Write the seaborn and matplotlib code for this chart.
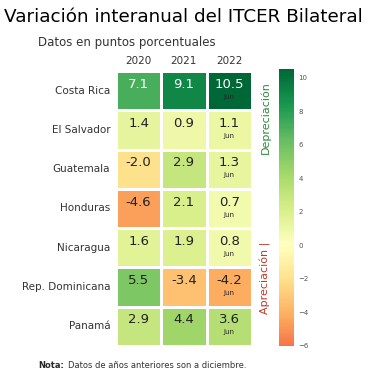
import numpy as np
import pandas as pd
import matplotlib
matplotlib.use("Agg")
import matplotlib.pyplot as plt
import seaborn as sns

# Data
paises = ["Costa Rica", "El Salvador", "Guatemala", "Honduras",
          "Nicaragua", "Rep. Dominicana", "Panamá"]
anios = ["2020", "2021", "2022"]
v2020 = [7.1, 1.4, -2.0, -4.6, 1.6, 5.5, 2.9]
v2021 = [9.1, 0.9, 2.9, 2.1, 1.9, -3.4, 4.4]
v2022 = [10.5, 1.1, 1.3, 0.7, 0.8, -4.2, 3.6]
nota_2022 = "Jun"

df = pd.DataFrame({"2020": v2020, "2021": v2021, "2022": v2022}, index=paises)

sns.set_style("white")
plt.rcParams["font.family"] = ["DejaVu Sans"]

fig = plt.figure(figsize=(3.8, 3.8), dpi=100)
ax = fig.add_axes([0.305, 0.09, 0.358, 0.723])
cax = fig.add_axes([0.734, 0.09, 0.039, 0.728])

sns.heatmap(df, ax=ax, cbar_ax=cax, cmap="RdYlGn", center=0, vmin=-6, vmax=10.5,
            linewidths=0.8, linecolor="white", annot=False)

# cell labels
for i, pais in enumerate(paises):
    for j, anio in enumerate(anios):
        val = df.loc[pais, anio]
        col = "white" if pais == "Costa Rica" else "#222222"
        ax.text(j + 0.5, i + 0.34, f"{val:.1f}", ha="center", va="center",
                fontsize=9.5, color=col)
        if anio == "2022":
            ax.text(j + 0.5, i + 0.66, nota_2022, ha="center", va="center",
                    fontsize=5, color="#222222")

ax.xaxis.tick_top()
ax.set_xlabel("")
ax.set_ylabel("")
ax.tick_params(axis="both", length=0, pad=4)
ax.set_xticklabels(anios, fontsize=7.5, color="#333333")
ax.set_yticklabels(paises, rotation=0, fontsize=7.5, color="#333333")

cax.tick_params(labelsize=5, colors="#555555", length=0)
cax.set_yticks([-6, -4, -2, 0, 2, 4, 6, 8, 10])
for s in cax.spines.values():
    s.set_visible(False)
cbar = ax.collections[0].colorbar
if cbar is not None:
    cbar.outline.set_visible(False)

fig.text(0.698, 0.69, "Depreciación", rotation=90, ha="center", va="center",
         fontsize=8, color="#2e8b3a")
fig.text(0.698, 0.27, "Apreciación |", rotation=90, ha="center", va="center",
         fontsize=8, color="#c0392b")

fig.text(0.01, 0.955, "Variación interanual del ITCER Bilateral", fontsize=13.2,
         ha="left", va="center", color="black")
fig.text(0.1, 0.888, "Datos en puntos porcentuales", fontsize=8.5,
         ha="left", va="center", color="#333333")
fig.text(0.1, 0.038, "Nota:", fontsize=6, fontweight="bold", ha="left", va="center")
fig.text(0.178, 0.038, "Datos de años anteriores son a diciembre.", fontsize=6,
         ha="left", va="center", color="#333333")

fig.savefig("out.png", dpi=100)
